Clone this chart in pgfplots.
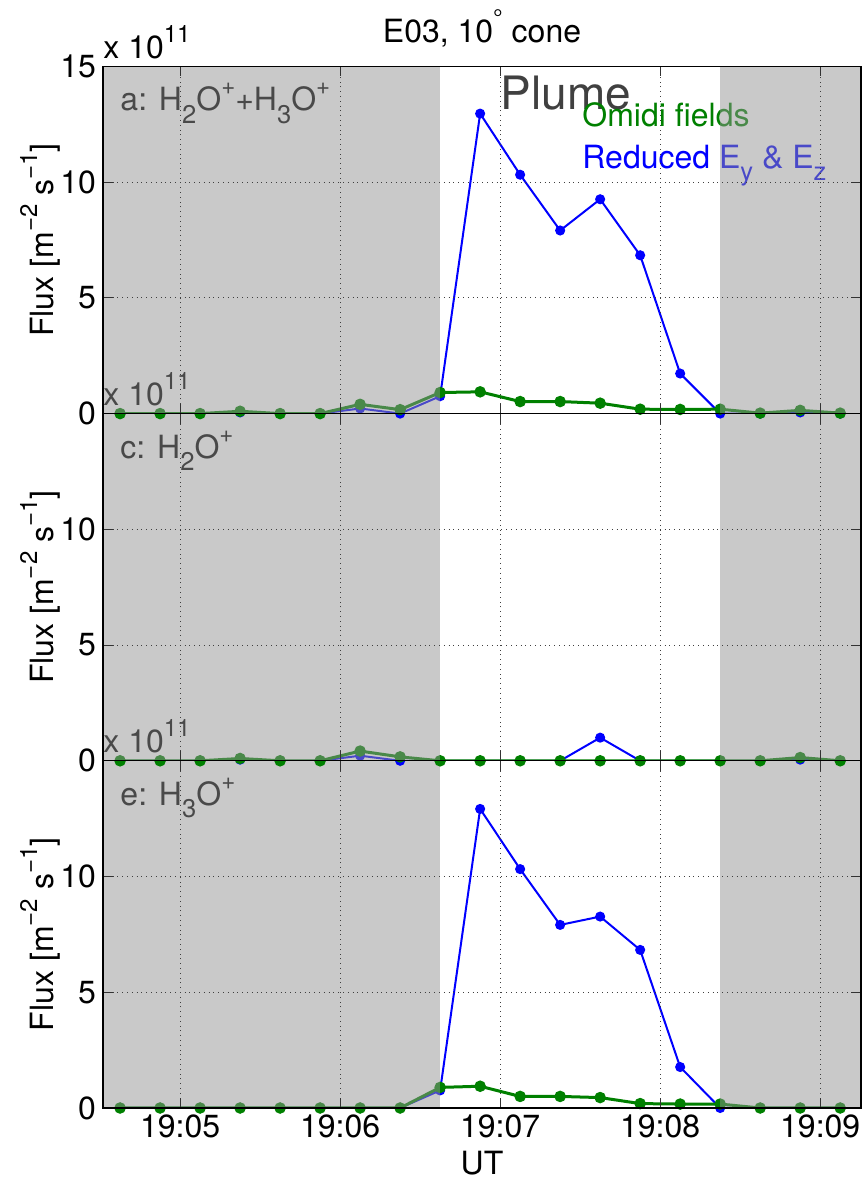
\documentclass[border=0pt]{standalone}
\usepackage{fontspec}
\setmainfont{TeX Gyre Heros}
\usepackage{graphicx}
\usepackage{pgfplots}
\usepackage{pgfplotstable}
\pgfplotsset{compat=1.18}

\definecolor{fluxblue}{RGB}{0,0,255}
\definecolor{fluxgreen}{RGB}{0,128,0}
\definecolor{shadegray}{RGB}{147,147,147}
\definecolor{notegray}{RGB}{64,64,64}

% t: seconds after 19:00 UT; fluxes in units of 1e11 m^-2 s^-1
% aB/aG: H2O+ + H3O+, cB/cG: H2O+, eB/eG: H3O+ (B = reduced Ey & Ez, G = Omidi fields)
\pgfplotstableread{
t      aB     aG    cB    cG    eB     eG
277.5  0      0     0     0     0      0
292.5  0      0     0     0     0      0
307.5  0      0     0     0     0      0
322.5  0.05   0.10  0.05  0.10  0      0
337.5  0      0     0     0     0      0
352.5  0      0     0     0     0      0
367.5  0.22   0.40  0.22  0.42  0      0
382.5  0      0.17  0     0.17  0      0
397.5  0.75   0.91  0     0     0.76   0.89
412.5  12.96  0.94  0     0     12.92  0.94
427.5  10.32  0.52  0     0     10.32  0.50
442.5  7.91   0.52  0     0     7.91   0.50
457.5  9.26   0.45  1.00  0     8.27   0.45
472.5  6.84   0.19  0     0     6.83   0.19
487.5  1.73   0.18  0     0     1.77   0.17
502.5  0      0.19  0     0     0      0.17
517.5  0      0.02  0     0     0      0
532.5  0.05   0.14  0.05  0.14  0      0
547.5  0      0.02  0     0     0      0
}\fluxdata

\newcommand{\tickfont}{\fontsize{16}{18}\selectfont}
\newcommand{\panelfont}{\fontsize{16}{18}\selectfont}
% MATLAB-like large sub- and superscripts
\newcommand{\sub}[1]{\raisebox{-0.38em}{\scalebox{0.8}{#1}}}
\newcommand{\super}[1]{\raisebox{0.5em}{\scalebox{0.75}{#1}}}

\tikzset{
  scalenote/.style={font=\tickfont, anchor=base west, inner sep=0pt},
  panelname/.style={font=\panelfont, anchor=west, inner sep=0pt},
}

\pgfplotsset{
  panel/.style={
    scale only axis, width=379pt, height=173.6pt,
    xmin=271.1, xmax=555.3, ymin=0, ymax=15,
    clip mode=individual,
    xtick={300,360,420,480,540},
    xticklabels={},
    ytick={0,5,10},
    grid=major,
    major grid style={black!75, dotted, line width=0.5pt},
    axis on top,
    tick align=inside,
    major tick length=5pt,
    tick style={black!80, line width=0.5pt},
    axis line style={black, line width=0.7pt},
    ticklabel style={font=\tickfont},
    /pgf/number format/assume math mode=true,
    ylabel={Flux [m\super{−2} s\super{−1}]},
    ylabel style={font=\tickfont, at={(rel axis cs:-0.083,0.5)}, anchor=center},
  },
  blueline/.style={fluxblue, line width=1pt, mark=*, mark size=2pt},
  greenline/.style={fluxgreen, line width=1.5pt, mark=*, mark size=2.1pt},
  shade/.style={draw=none, fill=shadegray, fill opacity=0.5, forget plot},
}

\begin{document}
\begin{tikzpicture}
\path[use as bounding box] (0,0) rectangle (432pt,589.5pt);

% ---- panel e: H3O+ ----
\begin{axis}[panel, at={(51.5pt,35.5pt)}, anchor=south west,
  xticklabels={19:05,19:06,19:07,19:08,19:09},
  xlabel={UT}, xlabel style={font=\tickfont, at={(rel axis cs:0.5,0)}, anchor=center, yshift=-27.5pt}]
  \addplot[blueline] table[x=t, y=eB] {\fluxdata};
  \addplot[greenline] table[x=t, y=eG] {\fluxdata};
  \node[panelname] at (axis cs:277.5,13.4) {e: H\sub{3}O\super{+}};
  \addplot[shade] coordinates {(271.1,15) (397.5,15)} \closedcycle;
  \addplot[shade] coordinates {(502.5,15) (555.3,15)} \closedcycle;
  \node[scalenote] at ([yshift=4pt]rel axis cs:0,1) {x 10\super{11}};
\end{axis}

% ---- panel c: H2O+ ----
\begin{axis}[panel, at={(51.5pt,209.1pt)}, anchor=south west]
  \addplot[blueline] table[x=t, y=cB] {\fluxdata};
  \addplot[greenline] table[x=t, y=cG] {\fluxdata};
  \node[panelname] at (axis cs:277.5,13.4) {c: H\sub{2}O\super{+}};
  \addplot[shade] coordinates {(271.1,15) (397.5,15)} \closedcycle;
  \addplot[shade] coordinates {(502.5,15) (555.3,15)} \closedcycle;
  \node[scalenote] at ([yshift=4pt]rel axis cs:0,1) {x 10\super{11}};
\end{axis}

% ---- panel a: H2O+ + H3O+ ----
\begin{axis}[panel, at={(51.5pt,382.7pt)}, anchor=south west, ytick={0,5,10,15}]
  \addplot[blueline] table[x=t, y=aB] {\fluxdata};
  \addplot[greenline] table[x=t, y=aG] {\fluxdata};
  \node[panelname] at (axis cs:277.5,13.4) {a: H\sub{2}O\super{+}+H\sub{3}O\super{+}};
  \node[font=\fontsize{23}{25}\selectfont, text=notegray, anchor=west, inner sep=0pt] at (axis cs:420,13.85) {Plume};
  \node[font=\fontsize{16}{18}\selectfont, text=fluxgreen, anchor=west, inner sep=0pt] at (axis cs:450.7,12.9) {Omidi fields};
  \node[font=\fontsize{16}{18}\selectfont, text=fluxblue, anchor=base west, inner sep=0pt] at (axis cs:450.7,10.6) {Reduced E\sub{y} \& E\sub{z}};
  \addplot[shade] coordinates {(271.1,15) (397.5,15)} \closedcycle;
  \addplot[shade] coordinates {(502.5,15) (555.3,15)} \closedcycle;
  \node[scalenote] at ([yshift=4pt]rel axis cs:0,1) {x 10\super{11}};
  \node[font=\fontsize{16}{18}\selectfont, anchor=center] at ([yshift=19pt]rel axis cs:0.5,1) {E03, 10\super{°} cone};
\end{axis}
\end{tikzpicture}
\end{document}
